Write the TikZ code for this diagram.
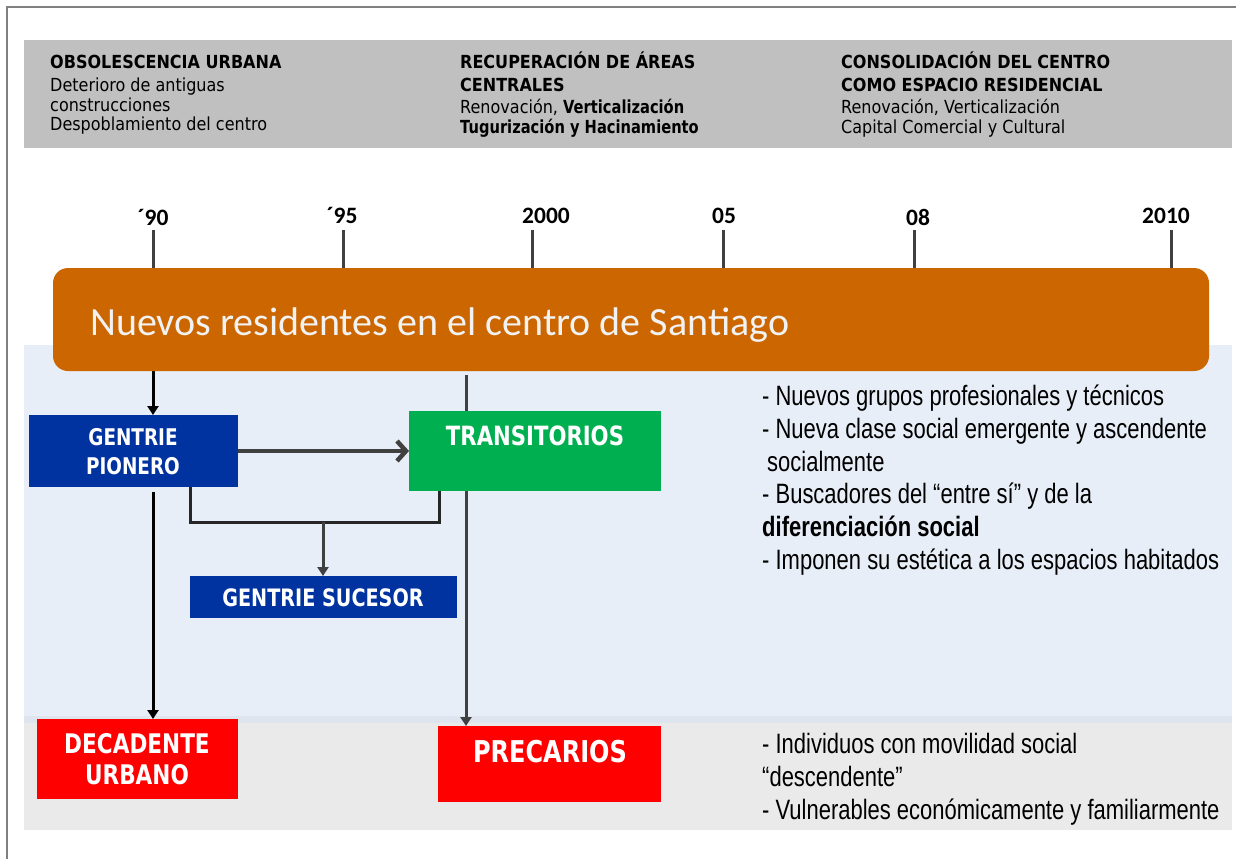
\documentclass[tikz,border=0pt]{standalone}
\usepackage{fontspec}
\usetikzlibrary{arrows.meta}
\newfontfamily\hdrfont[FakeStretch=0.89]{DejaVu Sans}
\newfontfamily\hdrnarrow[FakeStretch=0.815]{DejaVu Sans}
\newfontfamily\boxfont[FakeStretch=0.8]{DejaVu Sans}
\newfontfamily\calfont{Carlito}
\newfontfamily\arifont[FakeStretch=0.785]{Liberation Sans}
\definecolor{framegray}{HTML}{808080}
\definecolor{hdrgray}{HTML}{C0C0C0}
\definecolor{paleblue}{HTML}{E8EEF7}
\definecolor{stripblue}{HTML}{DEE5EE}
\definecolor{palegray}{HTML}{EAEAEA}
\definecolor{barorange}{HTML}{CC6600}
\definecolor{boxblue}{HTML}{0033A0}
\definecolor{boxgreen}{HTML}{00B050}
\definecolor{boxred}{HTML}{FF0000}
\definecolor{darkline}{HTML}{404040}
\definecolor{bartext}{HTML}{F2F2F2}
\pgfdeclarelayer{back}
\pgfdeclarelayer{mid}
\pgfsetlayers{back,mid,main}
\begin{document}
\begin{tikzpicture}[x=1pt,y=-1pt,
  hdr/.style={anchor=base west, inner sep=0, text=black, font=\hdrfont\fontsize{18}{21}\selectfont},
  hdrb/.style={anchor=base west, inner sep=0, text=black, font=\hdrfont\bfseries\fontsize{18}{21}\selectfont},
  hdrbl/.style={anchor=base west, inner sep=0, text=black, font=\hdrnarrow\bfseries\fontsize{18}{21}\selectfont},
  year/.style={anchor=base, inner sep=0, text=black, font=\calfont\bfseries\fontsize{23.5}{26}\selectfont},
  tickline/.style={draw=darkline, line width=3pt},
  boxshape/.style={anchor=north west, inner sep=0, outer sep=0},
  boxlbl/.style={anchor=base, inner sep=0, text=white, font=\boxfont\bfseries\fontsize{#1}{#1}\selectfont},
  rtxt/.style={anchor=base west, inner sep=0, text=black, font=\arifont\fontsize{28}{33}\selectfont},
  blkarrow/.style={draw=black, line width=3pt, -{Triangle[length=9pt,width=11pt]}},
  gryarrow/.style={draw=darkline, line width=3pt, -{Triangle[length=9pt,width=11pt]}},
]
\useasboundingbox (0,0) rectangle (1236,859);
\begin{pgfonlayer}{back}
\fill[white] (0,0) rectangle (1236,859);
\draw[framegray, line width=2pt] (7,859) -- (7,7) -- (1236,7);
\fill[hdrgray] (24,40) rectangle (1232,148);
\fill[paleblue] (24,345) rectangle (1232,716);
\fill[stripblue] (24,716) rectangle (1232,723);
\fill[palegray] (24,723) rectangle (1232,830);
\end{pgfonlayer}

% header texts
\node[hdrb] (h1a) at (50,68) {OBSOLESCENCIA URBANA};
\node[hdr]  (h1b) at (50,92) {Deterioro de antiguas};
\node[hdr]  (h1c) at (50,111) {construcciones};
\node[hdr]  (h1d) at (50,130) {Despoblamiento del centro};
\node[hdrb] (h2a) at (460,68) {RECUPERACIÓN DE ÁREAS};
\node[hdrb] (h2b) at (460,92) {CENTRALES};
\node[hdr]  (h2c) at (460,113) {Renovación, {\hdrnarrow\bfseries Verticalización}};
\node[hdrbl] (h2d) at (460,133) {Tugurización y Hacinamiento};
\node[hdrb] (h3a) at (841,68) {CONSOLIDACIÓN DEL CENTRO};
\node[hdrb] (h3b) at (841,92) {COMO ESPACIO RESIDENCIAL};
\node[hdr]  (h3c) at (841,113) {Renovación, Verticalización};
\node[hdr]  (h3d) at (841,133) {Capital Comercial y Cultural};

% orange bar
\node[boxshape, fill=barorange, rounded corners=15pt, minimum width=1156pt, minimum height=103pt] (bar) at (53,268) {};
\node[anchor=base west, inner sep=0, text=bartext, font=\calfont\fontsize{40}{48}\selectfont] (bartxt) at (90,335) {Nuevos residentes en el centro de Santiago};

% year ticks
\coordinate (t90) at (153,230);
\coordinate (t95) at (343,230);
\coordinate (t00) at (532,230);
\coordinate (t05) at (723,230);
\coordinate (t08) at (914,230);
\coordinate (t10) at (1171,230);
\foreach \t in {t90,t95,t00,t05,t08,t10}{\draw[tickline] (\t) -- (\t |- bar.north);}
\node[year] (y90) at (153,225) {´90};
\node[year] (y95) at (342,223) {´95};
\node[year] (y00) at (546,223) {2000};
\node[year] (y05) at (724,223) {05};
\node[year] (y08) at (918,225) {08};
\node[year] (y10) at (1166,223) {2010};

% boxes
\node[boxshape, fill=boxblue, minimum width=209pt, minimum height=72pt] (pion) at (29,415) {};
\node[boxlbl=23] (pionA) at (133,445) {GENTRIE};
\node[boxlbl=23] (pionB) at (133,474) {PIONERO};
\node[boxshape, fill=boxgreen, minimum width=252pt, minimum height=80pt] (trans) at (409,411) {};
\node[boxlbl=26.5] (transA) at (535,445) {TRANSITORIOS};
\node[boxshape, fill=boxblue, minimum width=267pt, minimum height=42pt] (suc) at (190,576) {};
\node[boxlbl=24] (sucA) at (323,606) {GENTRIE SUCESOR};
\node[boxshape, fill=boxred, minimum width=201pt, minimum height=80pt] (dec) at (37,719) {};
\node[boxlbl=27] (decA) at (137,753) {DECADENTE};
\node[boxlbl=27] (decB) at (137,784) {URBANO};
\node[boxshape, fill=boxred, minimum width=223pt, minimum height=76pt] (prec) at (438,726) {};
\node[boxlbl=30] (precA) at (550,762) {PRECARIOS};

% connectors
\coordinate (d0) at (153,492);
\coordinate (vtop) at (466,375);
\coordinate (brL) at (190,522);
\coordinate (brR) at (439,522);
\coordinate (brM) at (323,522);
\begin{pgfonlayer}{mid}
\draw[blkarrow] (bar.south -| t90) -- (pion.north -| t90);
\draw[blkarrow] (d0) -- (dec.north -| d0);
\draw[gryarrow] (vtop) -- (prec.north -| vtop);
\draw[draw=black!85, line width=3pt] (pion.south -| brL) -- (brL) -- (brR) -- (trans.south -| brR);
\draw[gryarrow] (brM) -- (suc.north -| brM);
\draw[draw=darkline, line width=4.5pt, -{Straight Barb[length=9pt,width=20pt]}] (pion.east) -- (pion.east -| trans.west);
\end{pgfonlayer}

% right texts
\node[rtxt] (r1) at (762,405) {- Nuevos grupos profesionales y técnicos};
\node[rtxt] (r2) at (762,438) {- Nueva clase social emergente y ascendente};
\node[rtxt] (r3) at (767,471) {socialmente};
\node[rtxt] (r4) at (762,503) {- Buscadores del “entre sí” y de la};
\node[rtxt] (r5) at (762,536) {\textbf{diferenciación social}};
\node[rtxt] (r6) at (762,569) {- Imponen su estética a los espacios habitados};
\node[rtxt] (s1) at (762,753) {- Individuos con movilidad social};
\node[rtxt] (s2) at (762,786) {“descendente”};
\node[rtxt] (s3) at (762,819) {- Vulnerables económicamente y familiarmente};
\end{tikzpicture}
\end{document}
